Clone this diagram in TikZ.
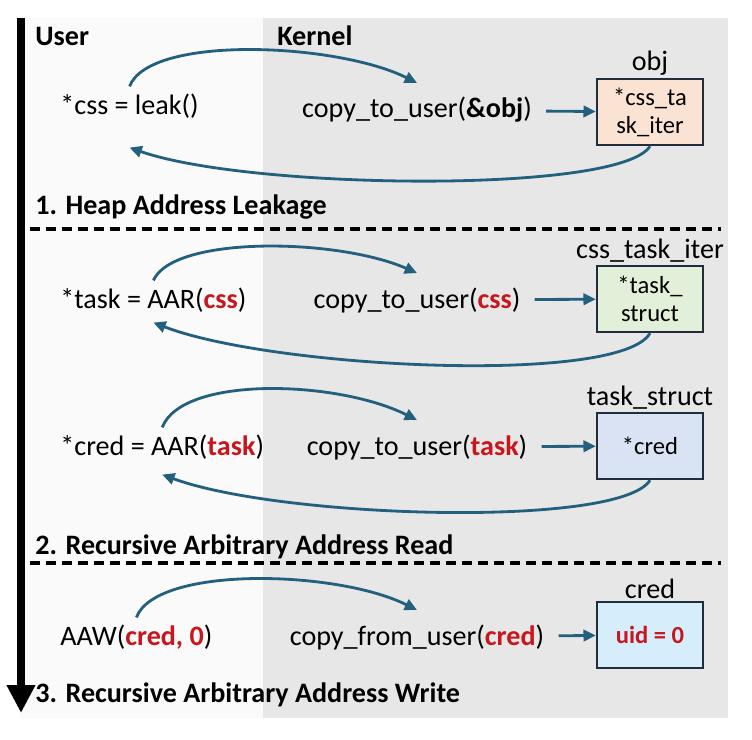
\documentclass[tikz,border=0pt]{standalone}
\usepackage{fontspec}
\setmainfont{Carlito}
\usetikzlibrary{positioning,arrows.meta}

\definecolor{flowblue}{HTML}{23607E}
\definecolor{boxline}{HTML}{1F2D3D}
\definecolor{hotred}{HTML}{C8161D}
\definecolor{kernbg}{HTML}{E7E7E7}
\definecolor{userbg}{HTML}{FAFAFA}
\newcommand{\redb}[1]{\textcolor{hotred}{\textbf{#1}}}

\begin{document}
\begin{tikzpicture}[x=0.02cm, y=0.02cm,
    usr/.style={anchor=west, inner sep=4pt, font=\fontsize{16}{18}\selectfont},
    kern/.style={inner sep=8pt, font=\fontsize{16}{18}\selectfont},
    head/.style={anchor=west, inner sep=0pt, font=\fontsize{16}{18}\selectfont\bfseries},
    mem/.style={rectangle, draw=boxline, line width=1.4pt, minimum width=2.12cm, minimum height=1.32cm, align=center, inner sep=1pt, font=\fontsize{14}{16}\selectfont},
    tag/.style={inner sep=1pt, font=\fontsize{16}{18}\selectfont},
    link/.style={-{Triangle[length=7pt,width=6.5pt]}, flowblue, line width=1.6pt},
    sep/.style={dash pattern=on 0.2cm off 0.12cm, line width=1.8pt}
]
\useasboundingbox (0,0) rectangle (752,-740);

% Hintergrund
\fill[userbg] (20,-18) rectangle (263,-718);
\fill[kernbg] (263,-18) rectangle (728,-718);

% Zeitachse
\draw[line width=4.5pt, -{Triangle[length=0.56cm,width=0.54cm]}] (21,-18) -- (21,-713);

\node[head] (user) at (35,-36) {User};
\node[head] (kernel) at (277,-36) {Kernel};

% 1. Leak
\node[usr] (leak) at (53,-106) {*css = leak()};
\node[kern] (cpobj) at (417,-110) {copy\_to\_user(\textbf{\&obj})};
\node[mem, fill={rgb,255:red,251;green,227;blue,211}] (obj) at (650,-112) {*css\_ta\\sk\_iter};
\node[tag, above=0pt of obj] (objtag) {obj};
\node[head] (step1) at (35,-207) {1. Heap Address Leakage};
\draw[sep] (30,-229) -- (721,-229);

% 2. AAR
\node[usr] (aarcss) at (53,-300) {*task = AAR(\redb{css})};
\node[kern] (cpcss) at (417,-300) {copy\_to\_user(\redb{css})};
\node[mem, fill={rgb,255:red,226;green,240;blue,217}] (iter) at (650,-299) {*task\_\\struct};
\node[tag, above=0pt of iter] (itertag) {css\_task\_iter};

\node[usr] (aartask) at (53,-447) {*cred = AAR(\redb{task})};
\node[kern] (cptask) at (417,-447) {copy\_to\_user(\redb{task})};
\node[mem, fill={rgb,255:red,218;green,227;blue,243}] (task) at (650,-446) {*cred};
\node[tag, above=0pt of task] (tasktag) {task\_struct};
\node[head] (step2) at (35,-547) {2. Recursive Arbitrary Address Read};
\draw[sep] (30,-563) -- (721,-563);

% 3. AAW
\node[usr] (aaw) at (53,-637) {AAW(\redb{cred, 0})};
\node[kern] (cpcred) at (417,-637) {copy\_from\_user(\redb{cred})};
\node[mem, fill={rgb,255:red,214;green,238;blue,251}] (cred) at (650,-635) {\redb{uid = 0}};
\node[tag, above=0pt of cred] (credtag) {cred};
\node[head] (step3) at (35,-695) {3. Recursive Arbitrary Address Write};

% Verbindungen
\draw[link] (leak.north) .. controls +(20,52) and +(-80,40) .. (cpobj.north);
\draw[link] (cpobj) -- (obj);
\draw[link] (obj.south) .. controls +(-30,-48) and +(120,-42) .. ([yshift=-0.44cm]leak.south);

\draw[link] (aarcss.north) .. controls +(20,45) and +(-80,35) .. (cpcss.north);
\draw[link] (cpcss) -- (iter);
\draw[link] (iter.south) .. controls +(-30,-52) and +(120,-46) .. ([yshift=-0.06cm]aarcss.south);

\draw[link] (aartask.north) .. controls +(20,52) and +(-80,40) .. (cptask.north);
\draw[link] (cptask) -- (task);
\draw[link] (task.south) .. controls +(-30,-48) and +(120,-44) .. ([yshift=-0.16cm]aartask.south);

\draw[link] (aaw.north) .. controls +(20,52) and +(-80,40) .. (cpcred.north);
\draw[link] (cpcred) -- (cred);

\end{tikzpicture}
\end{document}
